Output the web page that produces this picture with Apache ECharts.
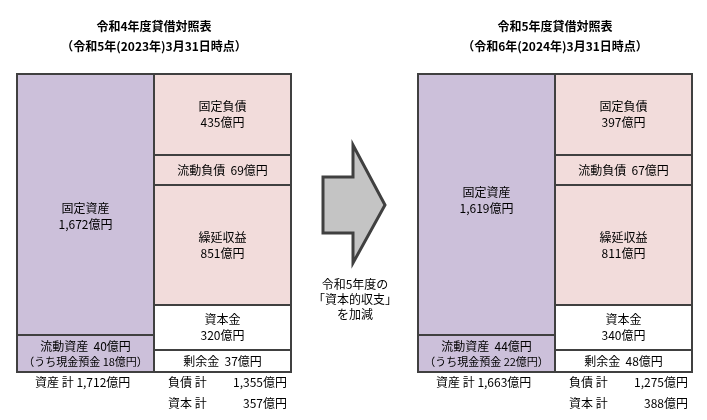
<!DOCTYPE html>
<html><head><meta charset="utf-8">
<script src="https://cdn.jsdelivr.net/npm/echarts@6/dist/echarts.min.js"></script>
<style>html,body{margin:0;padding:0;background:#fff}#c{width:707px;height:420px}</style>
</head><body><div id="c"></div>
<script>
// ---- data ----
const titles = ['令和4年度貸借対照表', '令和5年度貸借対照表'];
const subtitles = ['（令和5年(2023年)3月31日時点）', '（令和6年(2024年)3月31日時点）'];
const itemNames = ['固定資産', '流動資産', '固定負債', '流動負債', '繰延収益', '資本金', '剰余金'];
const itemColumn = [0, 0, 1, 1, 1, 1, 1];           // 0 = 資産側, 1 = 負債・資本側
const itemKind = ['asset', 'asset', 'liab', 'liab', 'liab', 'cap', 'cap'];
const valuesFY4 = [1672, 40, 435, 69, 851, 320, 37];
const valuesFY5 = [1619, 44, 397, 67, 811, 340, 48];
const cashDeposits = [18, 22];
const totalAssets = [1712, 1663];
const totalLiab = [1355, 1275];
const totalCap = [357, 388];
const arrowNote = ['令和5年度の', '「資本的収支」', 'を加減'];

// ---- layout (the diagram is not drawn to scale) ----
const boxSpan = [261, 37, 81, 30, 120, 45, 22];
const singleLine = [false, true, false, true, false, false, true];
const fillColor = { asset: '#CCC0DA', liab: '#F2DCDB', cap: '#FFFFFF' };
const FONT = '"Noto Sans CJK JP", sans-serif';
const gridLeft = [17, 418];
const allValues = [valuesFY4, valuesFY5];
const fmt = v => v.toLocaleString('en-US');
const spanTotal = boxSpan[0] + boxSpan[1];

const grids = [], xAxes = [], yAxes = [], series = [], graphics = [];

for (let g = 0; g < 2; g++) {
  grids.push({ left: gridLeft[g], top: 74, width: 273, height: spanTotal });
  xAxes.push({ type: 'category', gridIndex: g, data: ['資産', '負債・資本'], show: false, boundaryGap: true });
  yAxes.push({ type: 'value', gridIndex: g, min: 0, max: spanTotal, inverse: true, show: false });
  const vals = allValues[g];
  const cum = [0, 0];
  const data = itemNames.map((name, i) => {
    const c = itemColumn[i];
    const s = cum[c]; cum[c] += boxSpan[i];
    let text;
    if (i === 1) text = name + '  ' + vals[i] + '億円\n{s|（うち現金預金 ' + cashDeposits[g] + '億円）}';
    else if (singleLine[i]) text = name + '  ' + fmt(vals[i]) + '億円';
    else text = name + '\n' + fmt(vals[i]) + '億円';
    return { value: [c, s, cum[c], i], text: text };
  });
  series.push({
    type: 'custom', xAxisIndex: g, yAxisIndex: g, silent: true, data: data,
    renderItem: (params, api) => {
      const c = api.value(0), i = api.value(3);
      const w = api.size([1, 0])[0];
      const p0 = api.coord([c, api.value(1)]);
      const p1 = api.coord([c, api.value(2)]);
      const x = Math.round(p0[0] - w / 2);
      const y = Math.round(p0[1]);
      const h = Math.round(p1[1]) - y;
      const ww = Math.round(w);
      const dy = i === 0 ? (g === 0 ? 12 : -4) : 0;
      return {
        type: 'rect',
        shape: { x: x, y: y, width: ww, height: h },
        style: { fill: fillColor[itemKind[i]], stroke: '#404040', lineWidth: 2 },
        textContent: {
          style: {
            text: data[params.dataIndex].text, fill: '#000', fontFamily: FONT, fontSize: 12,
            lineHeight: 16, align: 'center', verticalAlign: 'middle',
            rich: { s: { fontSize: 11, fontFamily: FONT, fill: '#000', lineHeight: 15 } }
          }
        },
        textConfig: { position: 'inside', offset: [0, dy] }
      };
    }
  });
  const x0 = gridLeft[g];
  const tStyle = { fontFamily: FONT, fontSize: 12, fill: '#000' };
  graphics.push(
    { type: 'text', x: x0 + 18, y: 382, style: Object.assign({ text: '資産 計 ' + fmt(totalAssets[g]) + '億円', verticalAlign: 'middle' }, tStyle) },
    { type: 'text', x: x0 + 151, y: 382, style: Object.assign({ text: '負債 計', verticalAlign: 'middle' }, tStyle) },
    { type: 'text', x: x0 + 270, y: 382, style: Object.assign({ text: fmt(totalLiab[g]) + '億円', align: 'right', verticalAlign: 'middle' }, tStyle) },
    { type: 'text', x: x0 + 151, y: 403, style: Object.assign({ text: '資本 計', verticalAlign: 'middle' }, tStyle) },
    { type: 'text', x: x0 + 270, y: 403, style: Object.assign({ text: fmt(totalCap[g]) + '億円', align: 'right', verticalAlign: 'middle' }, tStyle) },
    { type: 'text', x: x0 + 137, y: 26, style: Object.assign({}, tStyle, { text: titles[g], align: 'center', verticalAlign: 'middle', fontWeight: 'bold' }) },
    { type: 'text', x: x0 + 137, y: 46, style: Object.assign({}, tStyle, { text: subtitles[g], align: 'center', verticalAlign: 'middle', fontWeight: 'bold' }) }
  );
}

// arrow
graphics.push({
  type: 'polygon',
  shape: { points: [[323, 177], [353, 177], [353, 145], [385, 205], [353, 263], [353, 233], [323, 233]] },
  style: { fill: '#C4C4C4', stroke: '#404040', lineWidth: 3, lineJoin: 'miter' }
});
arrowNote.forEach((t, k) => {
  graphics.push({ type: 'text', x: 355, y: 284 + k * 15, style: { text: t, align: 'center', verticalAlign: 'middle', fontFamily: FONT, fontSize: 12, fill: '#000' } });
});

const chart = echarts.init(document.getElementById('c'), null, { renderer: 'canvas' });
chart.setOption({
  animation: false,
  backgroundColor: '#fff',
  grid: grids, xAxis: xAxes, yAxis: yAxes, series: series,
  graphic: graphics
});
</script></body></html>
